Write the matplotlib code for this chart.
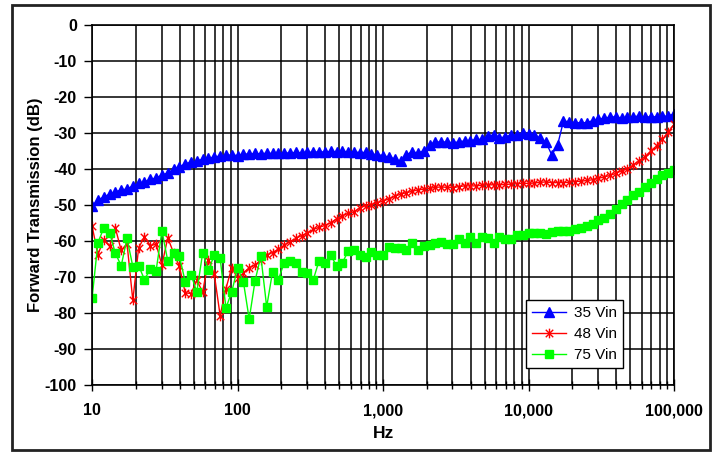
import numpy as np
import matplotlib.pyplot as plt
from matplotlib.path import Path
from matplotlib.patches import Rectangle
from matplotlib.ticker import FixedLocator, FixedFormatter, LogLocator, NullFormatter

plt.rcParams['font.family'] = ['Liberation Sans', 'DejaVu Sans']
plt.rcParams['axes.unicode_minus'] = False

# sweep: 25 points per decade, 10 Hz .. 100 kHz
mantissa = [1.000, 1.096, 1.202, 1.318, 1.445, 1.585, 1.738, 1.905, 2.089, 2.291,
            2.512, 2.754, 3.020, 3.311, 3.631, 3.981, 4.365, 4.786, 5.248, 5.754,
            6.310, 6.918, 7.586, 8.318, 9.120]
decades = [10, 100, 1000, 10000]
freq = [m * d for d in decades for m in mantissa] + [100000]

vin35 = [-50.3, -48.6, -47.8, -47.0, -46.4, -45.8, -45.6, -44.7, -44.0, -43.6,
         -42.9, -42.5, -41.7, -41.1, -40.1, -39.4, -38.6, -38.1, -37.8, -37.3,
         -37.0, -36.7, -36.4, -36.2, -36.1, -36.3,
         -35.8, -35.9, -35.7, -35.8, -35.6, -35.7, -35.6, -35.5, -35.6, -35.4,
         -35.5, -35.3, -35.4, -35.2, -35.3, -35.1, -35.2, -35.0, -35.3, -35.2,
         -35.5, -35.4, -35.8, -36.0, -36.3,
         -36.7, -37.2, -37.9, -36.1, -35.2, -35.6, -34.9, -33.3, -32.5, -32.5,
         -32.5, -32.7, -32.5, -32.2, -32.2, -31.8, -31.8, -30.8, -30.6, -31.4,
         -31.1, -30.6, -30.6, -29.9, -30.3,
         -30.6, -31.4, -32.6, -36.1, -33.3, -26.7, -26.9, -27.1, -27.2, -27.1,
         -26.6, -26.2, -25.9, -25.6, -25.5, -25.9, -25.5, -25.5, -25.3, -25.6,
         -25.5, -25.5, -25.4, -25.3, -24.7]

vin48 = [-55.9, -63.8, -59.6, -61.5, -56.4, -62.6, -60.7, -76.5, -61.9, -58.8,
         -61.3, -60.9, -66.7, -59.1, -63.3, -67.0, -74.4, -74.6, -70.9, -74.2,
         -65.2, -69.3, -80.7, -73.2, -67.4, -70.3,
         -68.9, -67.4, -66.7, -65.3, -64.0, -63.2, -62.3, -61.2, -60.2, -59.3,
         -58.5, -57.8, -56.8, -56.2, -55.7, -54.9, -53.9, -53.0, -52.3, -51.9,
         -50.8, -50.2, -49.9, -49.4, -48.9,
         -48.3, -47.6, -47.0, -46.6, -46.2, -45.8, -45.6, -45.4, -45.1, -45.0,
         -45.1, -45.2, -44.9, -44.7, -44.7, -44.7, -44.5, -44.4, -44.4, -44.4,
         -44.3, -44.2, -44.1, -44.0, -44.0,
         -43.9, -43.7, -43.6, -43.8, -43.8, -43.8, -43.7, -43.5, -43.4, -43.2,
         -43.0, -42.6, -42.2, -41.8, -41.2, -40.5, -39.9, -38.9, -37.7, -36.6,
         -35.0, -33.6, -31.8, -29.8, -27.6]

vin75 = [-75.8, -60.5, -56.4, -57.7, -63.4, -66.9, -59.3, -67.1, -66.9, -70.7,
         -67.8, -68.2, -57.2, -65.5, -63.3, -64.2, -71.3, -69.4, -74.1, -63.3,
         -68.1, -63.9, -64.8, -78.6, -74.1, -67.5,
         -71.3, -81.7, -71.1, -64.2, -78.3, -68.6, -70.8, -66.1, -65.5, -66.1,
         -68.6, -68.9, -70.8, -65.5, -66.1, -63.9, -66.9, -66.1, -62.8, -62.5,
         -63.9, -64.4, -63.1, -63.9, -63.9,
         -61.7, -62.0, -62.0, -62.5, -60.6, -62.5, -61.4, -61.1, -60.6, -60.3,
         -60.8, -60.8, -59.4, -60.6, -58.9, -60.6, -58.8, -59.2, -60.6, -58.8,
         -59.4, -59.4, -58.3, -58.3, -57.8,
         -57.8, -57.8, -58.0, -57.6, -57.3, -57.2, -57.1, -56.7, -56.3, -55.8,
         -55.3, -54.3, -53.5, -52.4, -51.0, -49.6, -48.5, -47.3, -46.3, -45.1,
         -44.0, -42.8, -41.8, -41.0, -40.4]

xticks = [10, 100, 1000, 10000, 100000]
xlabels = ['10', '100', '1,000', '10,000', '100,000']
yticks = list(range(-100, 1, 10))

# excel style asterisk: X plus a vertical bar
star = Path([(-1, -1), (1, 1), (-1, 1), (1, -1), (0, -1.3), (0, 1.3)],
            [Path.MOVETO, Path.LINETO, Path.MOVETO, Path.LINETO, Path.MOVETO, Path.LINETO])

fig = plt.figure(figsize=(7.14, 4.54), dpi=100)
ax = fig.add_axes([0.129, 0.152, 0.815, 0.793])

ax.plot(freq, vin35, color='#0000FF', marker='^', markersize=6.5, linewidth=1, label='35 Vin')
ax.plot(freq, vin48, color='#FF0000', marker=star, markersize=7, markeredgewidth=1,
        linewidth=1, label='48 Vin')
ax.plot(freq, vin75, color='#00FF00', marker='s', markersize=6, linewidth=1,
        label='75 Vin')

ax.set_xscale('log')
ax.set_xlim(10, 100000)
ax.set_ylim(-100, 0)
ax.xaxis.set_major_locator(FixedLocator(xticks))
ax.xaxis.set_major_formatter(FixedFormatter(xlabels))
ax.xaxis.set_minor_locator(LogLocator(base=10, subs=np.arange(2, 10)))
ax.xaxis.set_minor_formatter(NullFormatter())
ax.set_yticks(yticks)

ax.grid(True, which='major', color='black', linewidth=1.1)
ax.grid(True, which='minor', axis='x', color='black', linewidth=1.1)
ax.tick_params(axis='x', which='major', direction='inout', length=8, width=1,
               labelsize=11.5, pad=9)
ax.tick_params(axis='x', which='minor', direction='inout', length=6, width=1)
ax.tick_params(axis='y', direction='out', length=6, width=1, labelsize=11.5, pad=5)
for lbl in ax.get_xticklabels() + ax.get_yticklabels():
    lbl.set_fontweight('bold')
for s in ax.spines.values():
    s.set_color('black')
    s.set_linewidth(1.2)

ax.set_xlabel('Hz', fontsize=12.5, fontweight='bold', labelpad=6)
ax.set_ylabel('Forward Transmission (dB)', fontsize=12, fontweight='bold', labelpad=1)

leg = ax.legend(loc='lower left', bbox_to_anchor=(0.746, 0.047), fontsize=11,
                fancybox=False, framealpha=1, edgecolor='black', borderpad=0.4,
                handlelength=2.2, handletextpad=0.5, labelspacing=0.45,
                borderaxespad=0)
leg.get_frame().set_linewidth(1)

fig.patches.append(Rectangle((0.017, 0.008), 0.977, 0.98, transform=fig.transFigure,
                             fill=False, edgecolor='#222222', linewidth=2))

fig.savefig('out.png', dpi=100)
